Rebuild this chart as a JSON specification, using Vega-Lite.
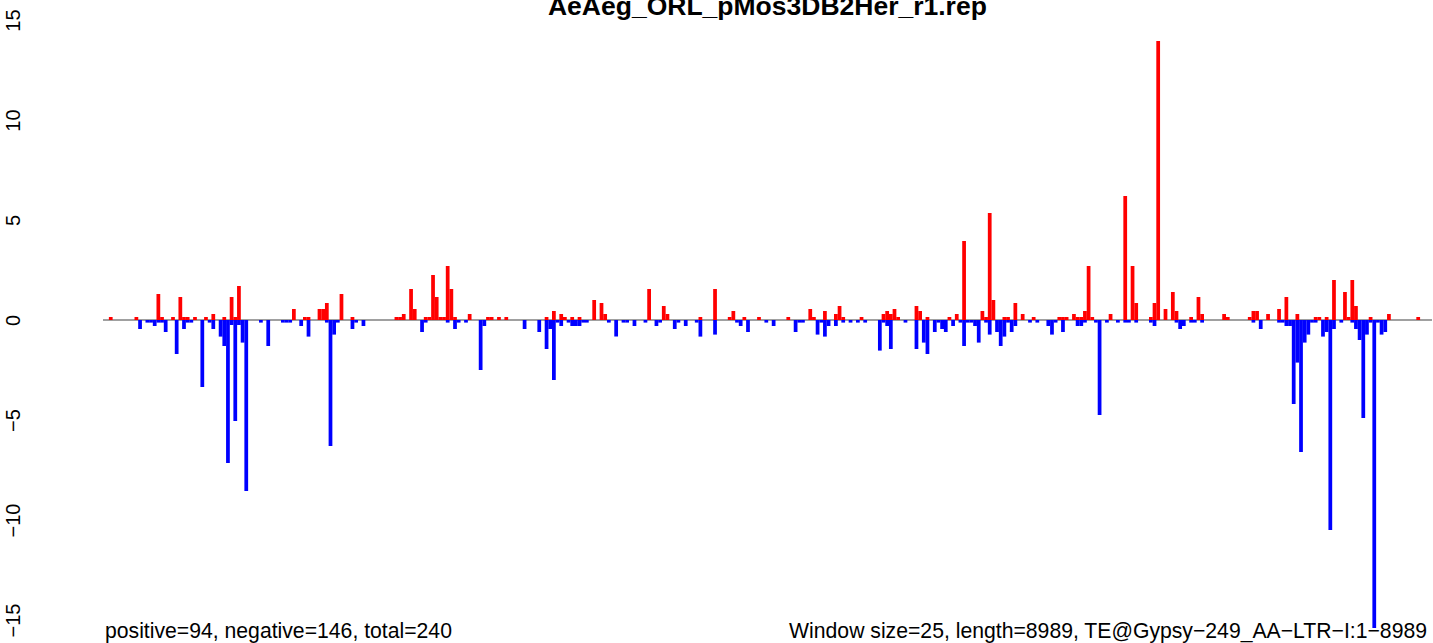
{
  "$schema": "https://vega.github.io/schema/vega-lite/v6.json",
  "width": 1329,
  "height": 608,
  "autosize": {"type": "none"},
  "padding": {"left": 103, "top": 20, "right": 1, "bottom": 15},
  "config": {"view": {"stroke": null}, "font": "Liberation Sans"},
  "data": {"values": [
    {"w":0,"pos":0.15},{"w":7,"pos":0.15},{"w":8,"neg":-0.45},{"w":10,"neg":-0.13},{"w":11,"neg":-0.13},{"w":12,"neg":-0.3},
    {"w":13,"pos":1.3,"neg":-0.13},{"w":14,"pos":0.15,"neg":-0.13},{"w":15,"neg":-0.6},{"w":17,"pos":0.15},{"w":18,"neg":-1.7},
    {"w":19,"pos":1.15},{"w":20,"pos":0.15,"neg":-0.45},{"w":21,"pos":0.15,"neg":-0.13},{"w":22,"neg":-0.13},{"w":23,"pos":0.15},
    {"w":25,"neg":-3.35},{"w":26,"pos":0.15},{"w":27,"neg":-0.13},{"w":28,"pos":0.3,"neg":-0.45},{"w":30,"neg":-0.83},
    {"w":31,"pos":0.15,"neg":-1.3},{"w":32,"neg":-7.15},{"w":33,"pos":1.15,"neg":-0.25},{"w":34,"pos":0.15,"neg":-5.05},
    {"w":35,"pos":1.7,"neg":-0.25},{"w":36,"neg":-1.13},{"w":37,"neg":-8.55},{"w":41,"neg":-0.13},{"w":43,"neg":-1.3},
    {"w":47,"neg":-0.13},{"w":48,"neg":-0.13},{"w":49,"neg":-0.13},{"w":50,"pos":0.55},{"w":52,"neg":-0.3},{"w":53,"pos":0.15},
    {"w":54,"pos":0.15,"neg":-0.83},{"w":57,"pos":0.55},{"w":58,"pos":0.55},{"w":59,"pos":0.85,"neg":-0.13},{"w":60,"neg":-6.3},
    {"w":61,"neg":-0.73},{"w":62,"neg":-0.13},{"w":63,"pos":1.3},{"w":66,"pos":0.15,"neg":-0.45},{"w":67,"neg":-0.13},{"w":69,"neg":-0.3},
    {"w":78,"pos":0.15},{"w":79,"pos":0.15},{"w":80,"pos":0.3},{"w":82,"pos":1.55},{"w":83,"pos":0.55},{"w":85,"neg":-0.6},
    {"w":86,"pos":0.15,"neg":-0.13},{"w":87,"pos":0.15},{"w":88,"pos":2.25},{"w":89,"pos":1.15},{"w":90,"pos":0.15},{"w":91,"pos":0.15},
    {"w":92,"pos":2.7,"neg":-0.13},{"w":93,"pos":1.55},{"w":94,"pos":0.15,"neg":-0.45},{"w":95,"neg":-0.13},{"w":97,"neg":-0.13},
    {"w":98,"pos":0.3},{"w":101,"neg":-2.5},{"w":102,"neg":-0.3},{"w":103,"pos":0.15},{"w":104,"pos":0.15},{"w":106,"pos":0.15},
    {"w":108,"pos":0.15},{"w":113,"neg":-0.45},{"w":117,"neg":-0.6},{"w":119,"pos":0.15,"neg":-1.45},{"w":120,"neg":-0.45},
    {"w":121,"pos":0.45,"neg":-3.0},{"w":122,"neg":-0.13},{"w":123,"pos":0.3,"neg":-0.3},{"w":124,"pos":0.15},{"w":125,"neg":-0.13},
    {"w":126,"pos":0.15,"neg":-0.3},{"w":127,"neg":-0.3},{"w":128,"pos":0.15,"neg":-0.3},{"w":129,"neg":-0.13},{"w":130,"neg":-0.13},
    {"w":132,"pos":1.0},{"w":134,"pos":0.85},{"w":135,"pos":0.3},{"w":136,"neg":-0.13},{"w":138,"neg":-0.83},{"w":140,"neg":-0.13},
    {"w":141,"neg":-0.13},{"w":143,"neg":-0.3},{"w":146,"neg":-0.13},{"w":147,"pos":1.55},{"w":149,"neg":-0.3},{"w":150,"neg":-0.13},
    {"w":151,"pos":0.7},{"w":152,"pos":0.3},{"w":154,"neg":-0.45},{"w":155,"neg":-0.13},{"w":157,"neg":-0.3},{"w":160,"neg":-0.13},
    {"w":161,"pos":0.15,"neg":-0.83},{"w":165,"pos":1.55,"neg":-0.73},{"w":169,"pos":0.15},{"w":170,"pos":0.45},{"w":171,"neg":-0.13},
    {"w":172,"neg":-0.3},{"w":173,"pos":0.15},{"w":174,"neg":-0.6},{"w":177,"pos":0.15},{"w":179,"neg":-0.13},{"w":181,"neg":-0.3},
    {"w":185,"pos":0.15},{"w":187,"neg":-0.6},{"w":188,"neg":-0.13},{"w":189,"neg":-0.13},{"w":191,"pos":0.55},{"w":192,"pos":0.15},
    {"w":193,"neg":-0.73},{"w":194,"neg":-0.13},{"w":195,"pos":0.45,"neg":-0.83},{"w":196,"neg":-0.3},{"w":198,"pos":0.3,"neg":-0.3},
    {"w":199,"pos":0.7},{"w":200,"pos":0.15,"neg":-0.13},{"w":202,"neg":-0.13},{"w":204,"neg":-0.13},{"w":205,"pos":0.15},
    {"w":206,"neg":-0.13},{"w":210,"neg":-1.53},{"w":211,"pos":0.3,"neg":-0.13},{"w":212,"pos":0.45,"neg":-0.3},
    {"w":213,"pos":0.3,"neg":-1.45},{"w":214,"pos":0.55},{"w":215,"pos":0.15},{"w":217,"neg":-0.13},{"w":220,"pos":0.7,"neg":-1.45},
    {"w":221,"pos":0.45},{"w":222,"neg":-1.13},{"w":223,"pos":0.15,"neg":-1.7},{"w":225,"neg":-0.6},{"w":226,"neg":-0.13},
    {"w":227,"neg":-0.45},{"w":228,"neg":-0.6},{"w":229,"pos":0.15},{"w":230,"neg":-0.3},{"w":231,"pos":0.3},{"w":232,"neg":-0.13},
    {"w":233,"pos":3.95,"neg":-1.3},{"w":234,"neg":-0.13},{"w":235,"neg":-0.13},{"w":236,"neg":-0.3},{"w":237,"neg":-1.13},
    {"w":238,"pos":0.45},{"w":239,"pos":0.15,"neg":-0.13},{"w":240,"pos":5.35,"neg":-0.73},{"w":241,"pos":1.0},{"w":242,"neg":-0.6},
    {"w":243,"neg":-1.3},{"w":244,"pos":0.15,"neg":-0.83},{"w":245,"pos":0.15,"neg":-0.13},{"w":246,"neg":-0.6},
    {"w":247,"pos":0.85,"neg":-0.3},{"w":249,"pos":0.3},{"w":251,"neg":-0.13},{"w":252,"pos":0.15},{"w":253,"neg":-0.13},
    {"w":256,"neg":-0.3},{"w":257,"neg":-0.73},{"w":258,"neg":-0.13},{"w":259,"pos":0.15},{"w":260,"pos":0.15,"neg":-0.6},
    {"w":261,"pos":0.15},{"w":263,"pos":0.3},{"w":264,"pos":0.15,"neg":-0.3},{"w":265,"pos":0.15,"neg":-0.3},
    {"w":266,"pos":0.45,"neg":-0.13},{"w":267,"pos":2.7},{"w":268,"pos":0.15},{"w":269,"neg":-0.13},{"w":270,"neg":-4.75},
    {"w":272,"neg":-0.13},{"w":273,"pos":0.3},{"w":275,"neg":-0.13},{"w":277,"pos":6.2,"neg":-0.13},{"w":278,"neg":-0.13},
    {"w":279,"pos":2.7},{"w":280,"pos":0.85,"neg":-0.13},{"w":284,"pos":0.15,"neg":-0.13},{"w":285,"pos":0.85,"neg":-0.3},
    {"w":286,"pos":13.95},{"w":288,"pos":0.55},{"w":290,"pos":1.4},{"w":291,"pos":0.45,"neg":-0.13},{"w":292,"neg":-0.45},
    {"w":293,"neg":-0.3},{"w":295,"pos":0.15,"neg":-0.13},{"w":296,"neg":-0.13},{"w":297,"pos":1.15},{"w":298,"pos":0.3,"neg":-0.13},
    {"w":304,"pos":0.3},{"w":305,"pos":0.15},{"w":311,"pos":0.15},{"w":312,"pos":0.45,"neg":-0.13},{"w":313,"pos":0.45},
    {"w":314,"neg":-0.45},{"w":316,"pos":0.3},{"w":319,"pos":0.55,"neg":-0.13},{"w":320,"neg":-0.13},{"w":321,"pos":1.15,"neg":-0.3},
    {"w":322,"neg":-0.3},{"w":323,"neg":-4.2},{"w":324,"pos":0.3,"neg":-2.13},{"w":325,"neg":-6.6},{"w":326,"neg":-1.13},
    {"w":327,"neg":-0.73},{"w":328,"neg":-0.13},{"w":329,"pos":0.15,"neg":-0.13},{"w":330,"pos":0.15},{"w":331,"neg":-0.83},
    {"w":332,"pos":0.15,"neg":-0.6},{"w":333,"neg":-10.5},{"w":334,"pos":2.0,"neg":-0.45},{"w":336,"neg":-0.13},{"w":337,"pos":1.4},
    {"w":338,"pos":0.15},{"w":339,"pos":2.0,"neg":-0.13},{"w":340,"pos":0.7,"neg":-0.45},{"w":341,"neg":-1.0},{"w":342,"neg":-4.9},
    {"w":343,"neg":-0.73},{"w":344,"pos":0.15,"neg":-0.13},{"w":345,"neg":-15.4},{"w":346,"neg":-0.13},{"w":347,"neg":-0.73},
    {"w":348,"neg":-0.6},{"w":349,"pos":0.3},{"w":357,"pos":0.15}
  ]},
  "layer": [
    {
      "mark": {"type": "rule", "color": "#a0a0a0", "strokeWidth": 1.5},
      "encoding": {"y": {"datum": 0, "type": "quantitative", "scale": {"domain": [-15.4, 15], "nice": false, "zero": false}}}
    },
    {
      "mark": {"type": "bar", "color": "#ff0000", "width": 3.75},
      "encoding": {
        "x": {"field": "w", "type": "quantitative", "scale": {"domain": [-0.75, 359.4], "nice": false, "zero": false}, "axis": null},
        "y": {"field": "pos", "type": "quantitative", "scale": {"domain": [-15.4, 15], "nice": false, "zero": false},
              "axis": {"values": [-15, -10, -5, 0, 5, 10, 15], "title": null, "grid": false, "domain": false, "ticks": false, "tickSize": 0,
                       "labelAngle": -90, "labelAlign": "center", "labelBaseline": "bottom", "labelPadding": 80,
                       "labelFont": "Liberation Sans", "labelFontSize": 20, "labelColor": "#000000"}},
        "y2": {"datum": 0}
      }
    },
    {
      "mark": {"type": "bar", "color": "#0000ff", "width": 3.75},
      "encoding": {
        "x": {"field": "w", "type": "quantitative"},
        "y": {"field": "neg", "type": "quantitative"},
        "y2": {"datum": 0}
      }
    },
    {
      "data": {"values": [{"t": "AeAeg_ORL_pMos3DB2Her_r1.rep"}]},
      "mark": {"type": "text", "align": "center", "baseline": "alphabetic", "fontSize": 26.5, "fontWeight": "bold", "font": "Liberation Sans", "color": "#000000", "dy": -5},
      "encoding": {"text": {"field": "t"}, "x": {"datum": 179.3}, "y": {"datum": 15}}
    },
    {
      "data": {"values": [{"t": "positive=94, negative=146, total=240"}]},
      "mark": {"type": "text", "align": "left", "baseline": "alphabetic", "fontSize": 21.2, "font": "Liberation Sans", "color": "#000000", "dy": 10, "dx": -3},
      "encoding": {"text": {"field": "t"}, "x": {"datum": -0.75}, "y": {"datum": -15.4}}
    },
    {
      "data": {"values": [{"t": "Window size=25, length=8989, TE@Gypsy−249_AA−LTR−I:1−8989"}]},
      "mark": {"type": "text", "align": "right", "baseline": "alphabetic", "fontSize": 21.2, "font": "Liberation Sans", "color": "#000000", "dy": 10, "dx": 0},
      "encoding": {"text": {"field": "t"}, "x": {"datum": 359.4}, "y": {"datum": -15.4}}
    }
  ]
}
